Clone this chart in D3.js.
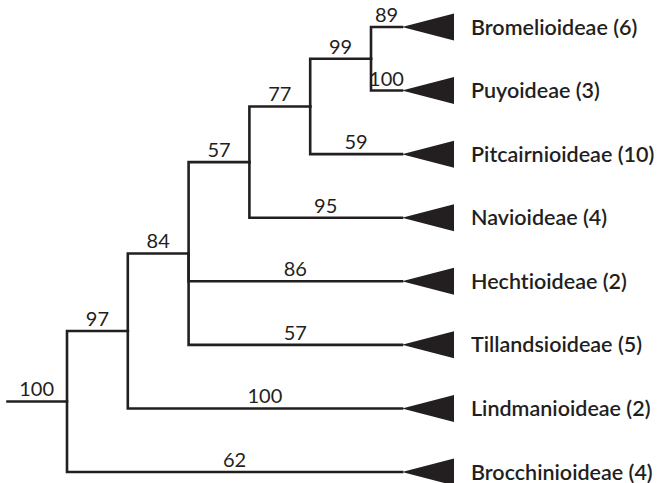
<!DOCTYPE html>
<html>
<head>
<meta charset="utf-8">
<script src="https://cdn.jsdelivr.net/npm/d3@7"></script>
<style>
  body { margin: 0; background: #fff; }
  svg { display: block; }
  text { font-variant-ligatures: none; }
</style>
</head>
<body>
<svg id="tree" width="658" height="483"></svg>
<script>
// subfamilies (tips), number of sampled taxa, bootstrap on terminal branches
var taxa = ["Bromelioideae", "Puyoideae", "Pitcairnioideae", "Navioideae",
            "Hechtioideae", "Tillandsioideae", "Lindmanioideae", "Brocchinioideae"];
var counts = [6, 3, 10, 4, 2, 5, 2, 4];
var tipSupport = [89, 100, 59, 95, 86, 57, 100, 62];

// topology with tip indices, internal support listed in preorder
var topology = [[[[[[0, 1], 2], 3], 4, 5], 6], 7];
var nodeSupport = [100, 97, 84, 57, 77, 99];

var ink = "#231f20";
var svg = d3.select("#tree");

var root = d3.hierarchy(topology, function(d){ return Array.isArray(d) ? d : null; });

var x = d3.scaleLinear().domain([0, 5]).range([67, 371]);
var tipX = 402;
var y = d3.scalePoint().domain(taxa).range([27, 472]);

// positions
root.eachAfter(function(n){
    if (!n.children) {
        n.px = tipX;
        n.py = y(taxa[n.data]);
        n.support = tipSupport[n.data];
    } else {
        n.px = x(n.depth);
        n.py = (n.children[0].py + n.children[n.children.length - 1].py) / 2;
    }
});
var k = 0;
root.eachBefore(function(n){
    if (n.children) n.support = nodeSupport[k++];
});

var g = svg.append("g");

// root stub
g.append("line")
    .attr("x1", x(-1)).attr("x2", root.px)
    .attr("y1", root.py).attr("y2", root.py)
    .attr("stroke", ink).attr("stroke-width", 2.6);

// elbow branches
g.selectAll("path.branch")
    .data(root.descendants().slice(1))
    .join("path")
    .attr("class", "branch")
    .attr("fill", "none")
    .attr("stroke", ink)
    .attr("stroke-width", 2.6)
    .attr("stroke-linecap", "square")
    .attr("d", function(n){
        return "M" + n.parent.px + "," + n.parent.py + "V" + n.py + "H" + n.px;
    });

// support values
g.selectAll("text.support")
    .data(root.descendants())
    .join("text")
    .attr("class", "support")
    .attr("x", function(n){
        var x0 = n.parent ? n.parent.px : x(-1);
        return (x0 + n.px) / 2;
    })
    .attr("y", function(n){ return n.py - 5; })
    .attr("text-anchor", "middle")
    .attr("font-family", "Lato, 'Open Sans', sans-serif")
    .attr("font-size", 20)
    .attr("fill", ink)
    .text(function(n){ return n.support; });

// collapsed clades
var leaves = root.leaves();
g.selectAll("path.clade")
    .data(leaves)
    .join("path")
    .attr("class", "clade")
    .attr("fill", ink)
    .attr("d", function(n){
        return "M" + n.px + "," + n.py + "L454," + (n.py - 13.5) + "L454," + (n.py + 13.5) + "Z";
    });

g.selectAll("text.taxon")
    .data(leaves)
    .join("text")
    .attr("class", "taxon")
    .attr("x", 471)
    .attr("y", function(n){ return n.py + 7.5; })
    .attr("font-family", "Lato, 'Open Sans', sans-serif")
    .attr("font-weight", 600)
    .attr("font-size", 21.5)
    .attr("fill", ink)
    .text(function(n){ return taxa[n.data] + " (" + counts[n.data] + ")"; });
</script>
</body>
</html>
